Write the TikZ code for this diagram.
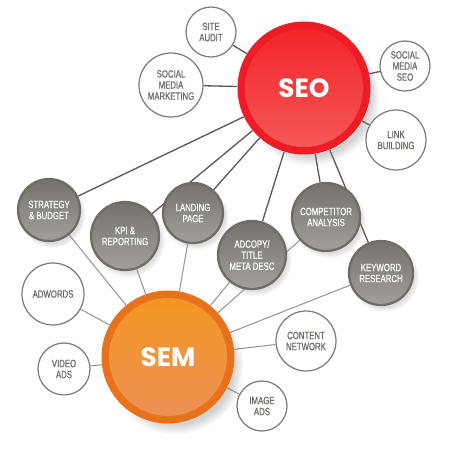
\documentclass[tikz,border=0pt]{standalone}
\usepackage{fontspec}
\newfontfamily\labelfont[FakeStretch=0.74, FakeBold=0.6]{Liberation Sans}
\newfontfamily\hubfont{Poppins}
\usepackage{xcolor}
\usepackage{tikz}
\usetikzlibrary{shadows, backgrounds}

\definecolor{seoring}{HTML}{EE1C24}
\definecolor{seotop}{HTML}{F22226}
\definecolor{seobot}{HTML}{F55A5A}
\definecolor{semring}{HTML}{E8721C}
\definecolor{semtop}{HTML}{F4961F}
\definecolor{sembot}{HTML}{EC9058}
\definecolor{grayring}{HTML}{6F6C68}
\definecolor{graytop}{HTML}{75726E}
\definecolor{graybot}{HTML}{A3A09C}
\definecolor{ringgray}{HTML}{7E7B77}
\definecolor{txtgray}{HTML}{6D6A66}
\definecolor{linkdark}{HTML}{58585A}
\definecolor{linklight}{HTML}{9A9792}

\begin{document}
\begin{tikzpicture}[
  x=0.02cm, y=-0.02cm,
  seoline/.style={draw=linkdark, line width=0.75pt},
  semline/.style={draw=linklight, line width=0.6pt},
  topic/.style={circle, draw=ringgray, line width=0.7pt, fill=white, text=txtgray,
    inner sep=0pt, align=center, minimum size=#1,
    font=\labelfont\fontsize{6}{6.3}\selectfont},
  shared/.style={circle, draw=grayring, line width=1.3pt, top color=graytop, bottom color=graybot,
    text=white, inner sep=0pt, align=center, minimum size=#1,
    circular drop shadow={shadow xshift=1.5pt, shadow yshift=-2pt, opacity=0.25},
    font=\labelfont\fontsize{6}{6.3}\selectfont},
  hub/.style n args={3}{circle, fill=#1, minimum size=2.66cm, inner sep=0pt, text=white,
    circular drop shadow={shadow xshift=4pt, shadow yshift=-5pt, shadow scale=1.03, opacity=0.35},
    path picture={\shade[top color=#2, bottom color=#3]
      (path picture bounding box.center) circle (1.18cm);},
    font=\hubfont\bfseries\fontsize{15}{17}\selectfont}
]
  \useasboundingbox (0,0) rectangle (461,451);

  % Hubs
  \node (seo) [hub={seoring}{seotop}{seobot}] at (304,88) {SEO};
  \node (sem) [hub={semring}{semtop}{sembot}] at (168,357) {SEM};

  % SEO only
  \node (audit) [topic=1.0cm] at (211,32) {SITE\\AUDIT};
  \node (smm) [topic=1.28cm] at (171,85) {SOCIAL\\MEDIA\\MARKETING};
  \node (smseo) [topic=1.0cm] at (405,66) {SOCIAL\\MEDIA\\SEO};
  \node (links) [topic=1.2cm] at (396,140) {LINK\\BUILDING};

  % Shared by both
  \node (strategy) [shared=1.24cm] at (49,210) {STRATEGY\\\& BUDGET};
  \node (kpi) [shared=1.36cm] at (125,236) {KPI \&\\REPORTING};
  \node (landing) [shared=1.2cm] at (193,213) {LANDING\\PAGE};
  \node (adcopy) [shared=1.36cm] at (252,255) {ADCOPY/\\TITLE\\META DESC};
  \node (competitor) [shared=1.36cm] at (326,217) {COMPETITOR\\ANALYSIS};
  \node (keyword) [shared=1.28cm] at (381,273) {KEYWORD\\RESEARCH};

  % SEM only
  \node (adwords) [topic=1.24cm] at (53,294) {ADWORDS};
  \node (video) [topic=1.04cm] at (64,369) {VIDEO\\ADS};
  \node (content) [topic=1.2cm] at (306,341) {CONTENT\\NETWORK};
  \node (image) [topic=1.0cm] at (262,406) {IMAGE\\ADS};

  % Links
  \begin{scope}[on background layer]
    \foreach \t in {audit, smm, smseo, links, strategy, kpi, landing, adcopy, competitor, keyword}
      \draw[seoline] (seo) -- (\t);
    \foreach \t in {strategy, kpi, landing, adcopy, competitor, keyword, adwords, video, content, image}
      \draw[semline] (sem) -- (\t);
  \end{scope}

\end{tikzpicture}
\end{document}
